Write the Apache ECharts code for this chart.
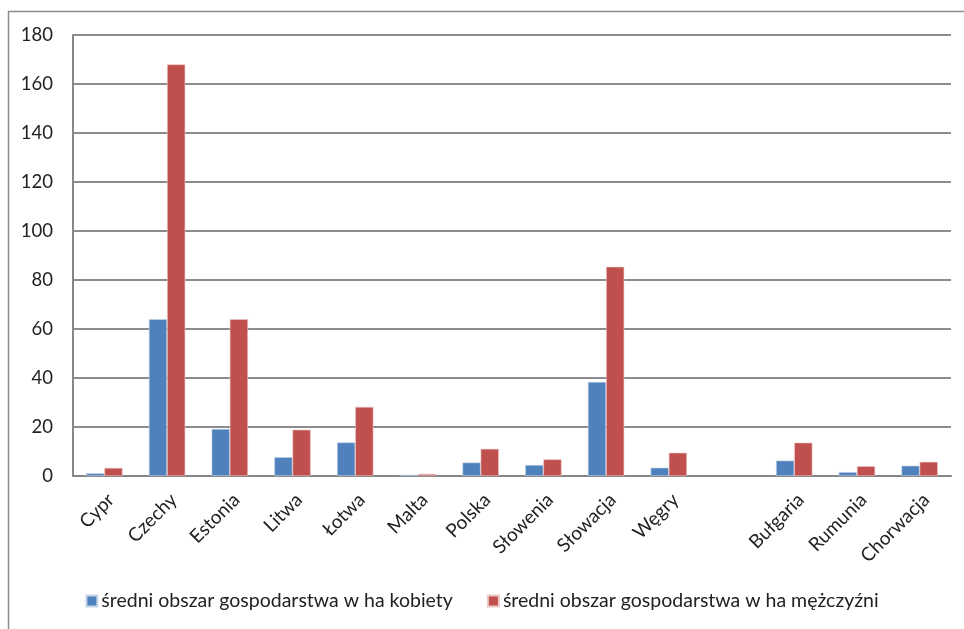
<!DOCTYPE html>
<html lang="pl">

<head>
    <meta charset="UTF-8">
    <title>Średni obszar gospodarstwa</title>
    <style>
        html, body { margin: 0; padding: 0; background: #fff; }
        #main { width: 964px; height: 629px; }
    </style>
    <script src="https://cdn.jsdelivr.net/npm/echarts@6/dist/echarts.min.js"></script>
</head>

<body>
    <div id="main"></div>
    <script>
        // kraje (pusta kategoria = przerwa przed Bułgarią)
        var kraje = ['Cypr', 'Czechy', 'Estonia', 'Litwa', 'Łotwa', 'Malta', 'Polska', 'Słowenia', 'Słowacja', 'Węgry', '', 'Bułgaria', 'Rumunia', 'Chorwacja'];
        // średni obszar w ha - kobiety
        var kobiety = [1.1, 64, 19.2, 7.7, 13.7, 0.5, 5.5, 4.5, 38.4, 3.4, null, 6.3, 1.6, 4.2];
        // średni obszar w ha - mężczyźni
        var mezczyzni = [3.3, 168, 64, 18.9, 28.2, 0.8, 11.1, 6.8, 85.4, 9.5, null, 13.6, 4.0, 5.8];
        var osY = [0, 20, 40, 60, 80, 100, 120, 140, 160, 180];

        var font = 'Lato, "Open Sans", sans-serif';
        var myChart = echarts.init(document.getElementById('main'));

        var option = {
            animation: false,
            textStyle: { fontFamily: font },
            graphic: [{
                type: 'rect',
                shape: { x: 8.5, y: 11.5, width: 1000, height: 700 },
                style: { fill: 'none', stroke: '#8c8c8c', lineWidth: 1.5 },
                silent: true
            }],
            grid: { left: 73, right: 13, top: 35, bottom: 153 },
            legend: {
                bottom: 13,
                left: 'center',
                itemWidth: 11,
                itemHeight: 11,
                itemGap: 34,
                icon: 'rect',
                textStyle: { fontSize: 19.5, color: '#222', fontFamily: font, padding: [0, 0, 0, -1] }
            },
            xAxis: {
                type: 'category',
                data: kraje,
                axisLine: { lineStyle: { color: '#868686', width: 2 } },
                axisTick: { show: false },
                axisLabel: { rotate: 45, fontSize: 19, color: '#222', margin: 14, interval: 0, verticalAlign: 'top' }
            },
            yAxis: {
                type: 'value',
                min: osY[0],
                max: osY[osY.length - 1],
                interval: osY[1] - osY[0],
                axisLine: { show: true, lineStyle: { color: '#868686', width: 2 } },
                axisTick: { show: false },
                axisLabel: { fontSize: 18.5, color: '#222', margin: 20 },
                splitLine: { lineStyle: { color: '#8c8c8c', width: 2 } }
            },
            series: [{
                name: 'średni obszar gospodarstwa w ha kobiety',
                type: 'bar',
                data: kobiety,
                barGap: '0%',
                barCategoryGap: '42%',
                itemStyle: { color: '#4F81BD', borderColor: '#c9d6ea', borderWidth: 0.6 }
            }, {
                name: 'średni obszar gospodarstwa w ha mężczyźni',
                type: 'bar',
                data: mezczyzni,
                itemStyle: { color: '#C0504D', borderColor: '#ecc8c7', borderWidth: 0.6 }
            }]
        };
        myChart.setOption(option);
    </script>
</body>

</html>
